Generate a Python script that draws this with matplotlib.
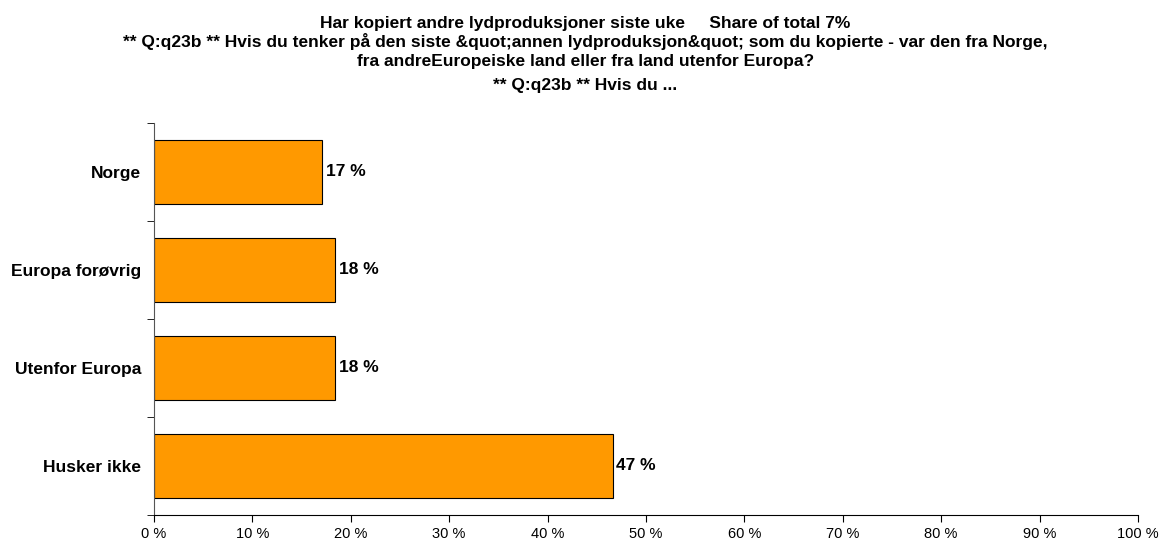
import matplotlib
matplotlib.use("Agg")
import matplotlib.pyplot as plt
import numpy as np

plt.rcParams['font.family'] = ['Liberation Sans', 'DejaVu Sans']

# data
categories = ["Norge", "Europa forøvrig", "Utenfor Europa", "Husker ikke"]
values = [17.1, 18.4, 18.4, 46.6]
value_labels = ["17 %", "18 %", "18 %", "47 %"]
x_ticks = [0, 10, 20, 30, 40, 50, 60, 70, 80, 90, 100]

title_lines = [
    "Har kopiert andre lydproduksjoner siste uke     Share of total 7%",
    "** Q:q23b ** Hvis du tenker på den siste &quot;annen lydproduksjon&quot; som du kopierte - var den fra Norge,",
    "fra andreEuropeiske land eller fra land utenfor Europa?",
    "** Q:q23b ** Hvis du ...",
]
# baseline of each title line, in pixels from the top
title_y_px = [28, 47, 66, 90]

W, H = 1171, 543
fig = plt.figure(figsize=(W / 100, H / 100), dpi=100)
ax = fig.add_axes([0.1315, 0.0516, 0.8403, 0.7219])

y = np.arange(len(categories))
ax.barh(y, values, height=0.66, color="#FF9900", edgecolor="black", linewidth=0.8)
for yi, v, lab in zip(y, values, value_labels):
    ax.text(v + 0.4, yi, lab, va="center", ha="left", fontsize=12.5, fontweight="bold")

ax.set_xlim(0, 100)
ax.set_ylim(len(categories) - 0.5, -0.5)
ax.set_xticks(x_ticks)
ax.set_xticklabels([f"{t} %" for t in x_ticks], fontsize=10.5)

ax.set_yticks(y)
ax.set_yticklabels(categories, fontsize=12.5, fontweight="bold")
ax.tick_params(axis="y", length=0, pad=9)
ax.set_yticks(np.arange(len(categories) + 1) - 0.5, minor=True)
ax.tick_params(axis="y", which="minor", length=5, direction="out")
ax.tick_params(axis="x", length=5, direction="out", pad=4)

for s in ["top", "right"]:
    ax.spines[s].set_visible(False)
ax.spines["left"].set_color("#555555")

for line, ypx in zip(title_lines, title_y_px):
    fig.text(0.5, 1 - ypx / H, line, ha="center", va="baseline",
             fontsize=12.5, fontweight="bold")

fig.savefig("out.png", dpi=100)
